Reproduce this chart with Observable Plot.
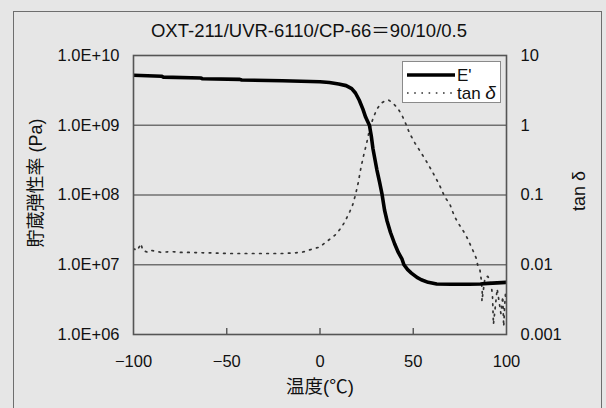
<!DOCTYPE html>
<html>
<head>
<meta charset="utf-8">
<script src="https://cdn.jsdelivr.net/npm/d3@7"></script>
<script src="https://cdn.jsdelivr.net/npm/@observablehq/plot@0.6"></script>
<style>
  html, body { margin: 0; padding: 0; background: #e6e6e6; }
  #wrap { position: relative; width: 606px; height: 408px; overflow: hidden; background: #e6e6e6;
          font-family: "Liberation Sans", Arial, "Noto Sans CJK JP", sans-serif; color: #111; }
  #outer { position: absolute; left: 13px; top: 11px; width: 589px; height: 420px;
           border: 1.6px solid #6e6e6e; box-sizing: border-box; }
  #chart { position: absolute; left: 0; top: 0; }
  #legend { position: absolute; left: 402px; top: 61px; width: 99px; height: 42px;
            background: #fff; border: 1px solid #8a8a8a; box-sizing: border-box; }
  .lbl { position: absolute; white-space: nowrap; line-height: 1; }
</style>
</head>
<body>
<div id="wrap">
  <div id="outer"></div>
  <div id="chart"></div>
  <div id="legend"></div>
  <div id="title" class="lbl" style="left:309px; top:31px; font-size:18.5px; transform: translate(-50%,-50%);"></div>
  <div id="ylab" class="lbl" style="left:36px; top:183px; font-size:18px; transform: translate(-50%,-50%) rotate(-90deg);"></div>
  <div id="ylab2" class="lbl" style="left:579px; top:191px; font-size:18px; transform: translate(-50%,-50%) rotate(-90deg);"></div>
  <div id="xlab" class="lbl" style="left:320px; top:387px; font-size:18.5px; transform: translate(-50%,-50%);"></div>
</div>
<script>
// ---- data ----
const titleText = "OXT-211/UVR-6110/CP-66＝90/10/0.5";
const yLabelLeft = "貯蔵弾性率 (Pa)";
const yLabelRight = "tan δ";
const xLabel = "温度(℃)";
const legendLabels = ["E'", "tan δ"];

const xTicks = [-100, -50, 0, 50, 100];
const xInnerTicks = [-50, 0, 50];
const yTicks = [1e6, 1e7, 1e8, 1e9, 1e10];
const yGrid = [1e7, 1e8, 1e9];
const yTickLabelsLeft = ["1.0E+06", "1.0E+07", "1.0E+08", "1.0E+09", "1.0E+10"];
const yTickLabelsRight = ["0.001", "0.01", "0.1", "1", "10"];
const yDomain = [1e6, 1e10];
const tanScale = 1e9; // right axis: 0.001..10 aligned with 1e6..1e10

const eTemp = [-100,-85,-84,-64,-63,-43,-42,-20,0,5,10,14,17,19,21,23,24.5,26.5,27.5,28.4,30.5,32,33.2,34.6,36,37.8,40,42,44,45,47,49,52,54.3,58,62.6,70,80,86,90,95,100];
const eVal  = [5.2e9,5.05e9,4.9e9,4.75e9,4.65e9,4.55e9,4.45e9,4.35e9,4.2e9,4.1e9,3.9e9,3.7e9,3.35e9,2.9e9,2.3e9,1.7e9,1.3e9,1.0e9,7e8,4.6e8,2.3e8,1.5e8,1.05e8,6.1e7,4.2e7,2.9e7,2e7,1.5e7,1.2e7,1.0e7,8.5e6,7.6e6,6.6e6,6.1e6,5.6e6,5.3e6,5.25e6,5.25e6,5.3e6,5.4e6,5.5e6,5.6e6];

const tTemp = [-100,-98,-96,-95,-92,-90,-85,-80,-75,-70,-60,-50,-40,-30,-20,-10,-5,0,3,6,9,12,14,16,17.5,19,20.5,22,23.5,25,26.5,28.4,30.5,32.6,35,36.7,39,42,44,46,48,51,54.3,57.5,60.5,64,66.8,69.7,72,74,77,79,82,84,84.5,85.8,86.5,87,86.8,88.5,90,91,92,92.5,93,94,95,96,97,98,98.5,99,99.5,100];
const tVal  = [0.017,0.016,0.02,0.016,0.015,0.016,0.015,0.0155,0.015,0.015,0.0148,0.0145,0.0145,0.0145,0.0145,0.015,0.0165,0.018,0.021,0.024,0.028,0.036,0.045,0.058,0.072,0.1,0.15,0.25,0.38,0.55,0.85,1.25,1.7,2.05,2.25,2.3,2.1,1.7,1.38,1.05,0.77,0.55,0.4,0.29,0.21,0.14,0.095,0.073,0.05,0.04,0.03,0.024,0.016,0.012,0.01,0.0083,0.006,0.004,0.003,0.0066,0.0068,0.006,0.0047,0.0035,0.0014,0.0025,0.0045,0.003,0.002,0.0035,0.0013,0.0025,0.004,0.0035];

const eData = eTemp.map((t, i) => ({t, v: eVal[i]}));
const tData = tTemp.map((t, i) => ({t, v: tVal[i] * tanScale}));

const font = `"Liberation Sans", Arial, "Noto Sans CJK JP", sans-serif`;
const ink = "#111";

const chart = Plot.plot({
  width: 606,
  height: 408,
  marginLeft: 133,
  marginRight: 100,
  marginTop: 55,
  marginBottom: 74,
  style: {background: "transparent", fontFamily: font, fontSize: "16px", color: ink},
  x: {domain: [-100, 100], ticks: xTicks},
  y: {type: "log", domain: yDomain, ticks: yTicks},
  marks: [
    Plot.ruleY(yGrid, {stroke: "#707070", strokeWidth: 1.3}),
    Plot.line(tData, {x: "t", y: "v", stroke: "#333", strokeWidth: 1.7, strokeDasharray: "1.6 5.6", clip: true}),
    Plot.line(eData, {x: "t", y: "v", stroke: "#000", strokeWidth: 3.6, clip: true}),
    Plot.frame({stroke: "#555", strokeWidth: 1.6}),
    Plot.ruleX(xInnerTicks, {y1: yDomain[0], y2: yDomain[0], insetTop: -6, stroke: "#555", strokeWidth: 1.4}),
    Plot.axisX({ticks: xTicks, tickSize: 0, tickPadding: 21, label: null, fontSize: 16.5,
                tickFormat: d => (d < 0 ? "−" + Math.abs(d) : String(d))}),
    Plot.axisY({anchor: "left", ticks: yTicks, tickSize: 0, tickPadding: 14, label: null, fontSize: 16.5,
                tickFormat: d => yTickLabelsLeft[yTicks.indexOf(d)]}),
    Plot.axisY({anchor: "right", ticks: yTicks, tickSize: 0, tickPadding: 14, label: null, fontSize: 16.5,
                tickFormat: d => yTickLabelsRight[yTicks.indexOf(d)]})
  ]
});
document.getElementById("chart").appendChild(chart);

document.getElementById("title").textContent = titleText;
document.getElementById("ylab").textContent = yLabelLeft;
document.getElementById("ylab2").textContent = yLabelRight;
document.getElementById("xlab").textContent = xLabel;

// legend
const lg = d3.select("#legend").append("svg").attr("width", 99).attr("height", 42)
  .style("position", "absolute").style("left", "-1px").style("top", "-1px");
lg.append("line").attr("x1", 5).attr("x2", 53).attr("y1", 14).attr("y2", 14)
  .attr("stroke", "#000").attr("stroke-width", 3.6);
lg.append("text").attr("x", 55).attr("y", 20).text(legendLabels[0])
  .style("font-family", font).style("font-size", "17px").attr("fill", ink);
lg.append("line").attr("x1", 5).attr("x2", 53).attr("y1", 32).attr("y2", 32)
  .attr("stroke", "#333").attr("stroke-width", 1.7).attr("stroke-dasharray", "1.6 5.6");
const t2 = lg.append("text").attr("x", 55).attr("y", 38)
  .style("font-family", font).style("font-size", "17px").attr("fill", ink);
t2.append("tspan").text("tan ");
t2.append("tspan").text("δ").style("font-style", "italic").style("font-size", "19px");
</script>
</body>
</html>
